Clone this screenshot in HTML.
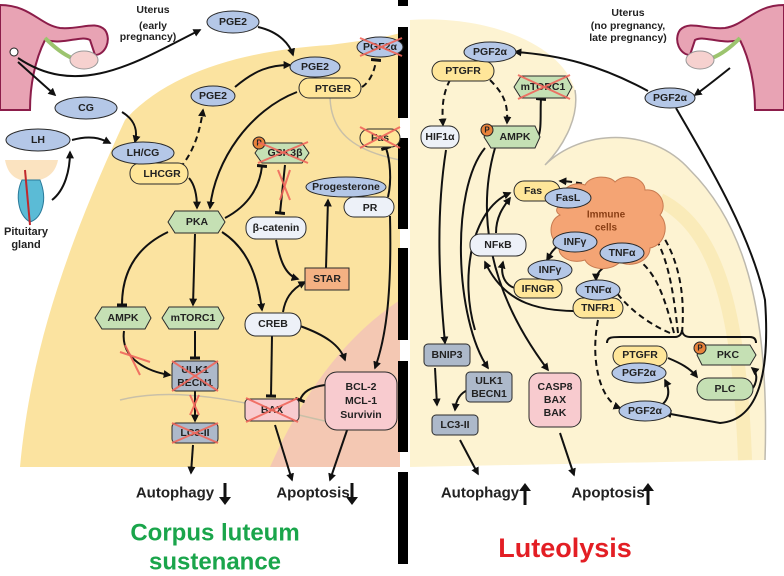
<!DOCTYPE html>
<html><head><meta charset="utf-8"><style>
html,body{margin:0;padding:0;background:#fff}
svg{display:block}
text{font-family:"Liberation Sans",sans-serif;font-weight:bold;text-anchor:middle;dominant-baseline:central;fill:#222}
.s{font-size:10.5px}
.b{fill:#b4c7e7;stroke:#2a2a2a;stroke-width:1}
.y{fill:#ffe699;stroke:#2a2a2a;stroke-width:1}
.g{fill:#c5e0b4;stroke:#2a2a2a;stroke-width:1}
.l{fill:#edf1f8;stroke:#2a2a2a;stroke-width:1}
.p{fill:#f8cbcf;stroke:#2a2a2a;stroke-width:1}
.o{fill:#f4b183;stroke:#2a2a2a;stroke-width:1}
.bg{fill:#adb9ca;stroke:#2a2a2a;stroke-width:1}
.a{fill:none;stroke:#111;stroke-width:2;marker-end:url(#ar)}
.d{fill:none;stroke:#111;stroke-width:2;stroke-dasharray:6,4;marker-end:url(#ar)}
.t{fill:none;stroke:#111;stroke-width:2;marker-end:url(#tb)}
.td{fill:none;stroke:#111;stroke-width:2;stroke-dasharray:6,4;marker-end:url(#tb)}
.x{stroke:#f0675c;stroke-width:2;opacity:.9}
.pc{fill:#e8823a;stroke:#222;stroke-width:1}
</style></head><body>
<svg width="784" height="576" viewBox="0 0 784 576" xmlns="http://www.w3.org/2000/svg">
<defs>
<marker id="ar" viewBox="0 0 10 10" refX="8" refY="5" markerWidth="4" markerHeight="4" orient="auto"><path d="M0,0L10,5L0,10z" fill="#111"/></marker>
<marker id="tb" viewBox="0 0 10 10" refX="5" refY="5" markerWidth="5" markerHeight="5" orient="auto"><path d="M5,0L5,10" stroke="#111" stroke-width="3"/></marker>
</defs>
<path d="M20,467 C30,360 60,260 125,120 C170,70 250,50 330,45 C370,40 395,35 400,33 L400,467 Z" fill="#fbe3a0"/>
<path d="M55,250 C75,180 110,120 145,95" stroke="#fff" stroke-width="8" fill="none"/>
<path d="M270,467 C300,400 340,340 400,300 L400,467 Z" fill="#f3c0b8" opacity=".8"/>
<path d="M120,400 C200,380 300,420 370,430" stroke="#c9c0a8" stroke-width="1.5" fill="none"/>
<path d="M330,95 C330,130 350,150 400,160" stroke="#c9c0a8" stroke-width="1.5" fill="none"/>
<path d="M410,20 C480,15 560,40 575,90 C580,120 560,150 545,165 C580,130 650,125 690,170 C740,220 770,300 765,460 L410,467 Z" fill="#fdf3d2"/>
<path d="M575,90 C580,120 560,150 545,165 C580,130 650,125 690,170 C740,220 770,300 765,460" stroke="#bdb9ae" stroke-width="1.5" fill="none"/>
<path d="M660,200 C720,230 740,320 745,460" stroke="#f8e6a8" stroke-width="14" fill="none" opacity=".6"/>
<g fill="#000"><rect x="398" y="0" width="10" height="6"/><rect x="398" y="27" width="10" height="91"/><rect x="398" y="138" width="10" height="91"/><rect x="398" y="248" width="10" height="92"/><rect x="398" y="361" width="10" height="91"/><rect x="398" y="472" width="10" height="92"/></g>
<path d="M0,5 C30,5 40,25 60,28 C80,30 95,20 105,30 C112,40 105,55 95,55 L90,40 C80,35 65,45 45,40 C35,60 30,85 30,110 L0,110 Z" fill="#e8a3b4" stroke="#8c1d4a" stroke-width="2"/>
<path d="M45,38 C55,48 65,55 72,58" stroke="#9cc46e" stroke-width="4" fill="none"/>
<ellipse cx="84" cy="60" rx="14" ry="9" fill="#f6d1cf" stroke="#999"/>
<circle cx="14" cy="52" r="4" fill="#fff" stroke="#222"/>
<path d="M784,5 C755,5 745,25 725,28 C705,30 690,20 680,30 C673,40 680,55 690,55 L695,40 C705,35 720,45 740,40 C750,60 755,85 755,110 L784,110 Z" fill="#e8a3b4" stroke="#8c1d4a" stroke-width="2"/>
<path d="M740,38 C730,48 720,55 712,58" stroke="#9cc46e" stroke-width="4" fill="none"/>
<ellipse cx="700" cy="60" rx="14" ry="9" fill="#f6d1cf" stroke="#999"/>
<path d="M5,160 L58,160 C55,175 45,180 30,182 C15,180 8,175 5,160Z" fill="#fbe3c0"/>
<path d="M22,180 C15,195 18,215 30,222 C42,218 48,200 40,180Z" fill="#5bbbd6" stroke="#2a7a9a"/>
<path d="M25,170 L30,225" stroke="#c0282c" stroke-width="2"/>
<text x="26" y="232" style="font-size:11px">Pituitary</text><text x="26" y="245" style="font-size:11px">gland</text>
<text x="153" y="10" style="font-size:10.5px">Uterus</text><text x="153" y="26" style="font-size:10.5px">(early</text><text x="148" y="37" style="font-size:10.5px">pregnancy)</text>
<text x="628" y="13" style="font-size:10.5px">Uterus</text><text x="628" y="26" style="font-size:10.5px">(no pregnancy,</text><text x="628" y="38" style="font-size:10.5px">late pregnancy)</text>

<path class="a" d="M18,58 C80,100 140,60 200,30"/>
<path class="a" d="M18,62 L55,95"/>
<path class="a" d="M258,27 C280,32 290,45 293,55"/>
<path class="a" d="M122,112 C135,120 138,130 135,142"/>
<path class="a" d="M72,140 C90,135 100,138 110,143"/>
<path class="a" d="M52,200 C65,190 70,170 70,152"/>
<path class="d" d="M180,168 C195,150 200,130 203,110"/>
<path class="a" d="M235,87 C255,70 270,65 290,65"/>
<path class="td" d="M362,87 C370,82 375,70 376,60"/>
<path class="a" d="M189,178 C195,185 197,195 197,208"/>
<path class="a" d="M297,92 C250,110 215,160 210,208"/>
<path class="t" d="M225,218 C250,205 260,185 262,166"/>
<path class="t" d="M285,165 L280,213"/>
<path class="a" d="M276,240 C280,260 285,275 298,279"/>
<path class="a" d="M326,268 L328,200"/>
<path class="t" d="M388,197 C392,180 390,160 386,148"/>
<path class="a" d="M390,216 C392,300 385,340 375,368"/>
<path class="t" d="M168,232 C130,250 122,280 122,305"/>
<path class="a" d="M195,234 L193,305"/>
<path class="a" d="M222,232 C250,250 258,280 262,310"/>
<path class="a" d="M283,312 C285,300 290,290 305,282"/>
<path class="a" d="M300,326 C325,335 340,345 345,360"/>
<path class="t" d="M272,336 L271,396"/>
<path class="t" d="M325,385 C310,387 303,392 300,400"/>
<path class="a" d="M124,331 C120,360 150,372 170,375"/>
<path class="t" d="M195,331 L195,358"/>
<path class="a" d="M195,391 L195,421"/>
<path class="a" d="M193,445 L191,473"/>
<path class="a" d="M275,425 L292,480"/>
<path class="a" d="M358,398 L330,480"/>
<ellipse class="b" cx="233" cy="22" rx="26" ry="11"/><text class="s" x="233" y="22">PGE2</text>
<ellipse class="b" cx="380" cy="47" rx="23" ry="10"/><text class="s" x="380" y="47">PGF2α</text>
<line class="x" x1="360" y1="38" x2="402" y2="56"/><line class="x" x1="360" y1="56" x2="402" y2="38"/>
<rect class="y" x="299" y="78" width="62" height="20" rx="10"/><text class="s" x="333" y="89">PTGER</text>
<ellipse class="b" cx="315" cy="67" rx="25" ry="10"/><text class="s" x="315" y="67">PGE2</text>
<ellipse class="b" cx="213" cy="96" rx="22" ry="10"/><text class="s" x="213" y="96">PGE2</text>
<ellipse class="b" cx="86" cy="108" rx="31" ry="11"/><text class="s" x="86" y="108">CG</text>
<ellipse class="b" cx="38" cy="140" rx="32" ry="11"/><text class="s" x="38" y="140">LH</text>
<rect class="y" x="130" y="163" width="58" height="21" rx="10"/><text class="s" x="162" y="174">LHCGR</text>
<ellipse class="b" cx="143" cy="153" rx="31" ry="11"/><text class="s" x="143" y="153">LH/CG</text>
<path class="g" d="M255,153 L262,143 L302,143 L309,153 L302,163 L262,163Z"/><text class="s" x="285" y="153">GSK3β</text>
<circle class="pc" cx="259" cy="143" r="6"/><text x="259" y="143" style="font-size:8px">P</text>
<line class="x" x1="258" y1="142" x2="308" y2="163"/><line class="x" x1="258" y1="163" x2="308" y2="142"/>
<line class="x" x1="278" y1="170" x2="290" y2="200"/><line class="x" x1="290" y1="170" x2="280" y2="200"/>
<rect class="y" x="360" y="129" width="40" height="18" rx="9"/><text class="s" x="380" y="138">Fas</text>
<line class="x" x1="360" y1="127" x2="400" y2="148"/><line class="x" x1="360" y1="148" x2="400" y2="127"/>
<rect class="l" x="344" y="197" width="50" height="20" rx="10"/><text class="s" x="370" y="208">PR</text>
<ellipse class="b" cx="346" cy="187" rx="40" ry="10"/><text class="s" x="346" y="187">Progesterone</text>
<path class="g" d="M168,222 L175,211 L218,211 L225,222 L218,233 L175,233Z"/><text class="s" x="197" y="222">PKA</text>
<rect class="l" x="246" y="217" width="60" height="22" rx="10"/><text class="s" x="276" y="228">β-catenin</text>
<rect class="o" x="305" y="268" width="44" height="22"/><text class="s" x="327" y="279">STAR</text>
<path class="g" d="M95,318 L102,307 L145,307 L151,318 L145,329 L102,329Z"/><text class="s" x="123" y="318">AMPK</text>
<path class="g" d="M162,318 L169,307 L218,307 L224,318 L218,329 L169,329Z"/><text class="s" x="193" y="318">mTORC1</text>
<line class="x" x1="120" y1="352" x2="150" y2="362"/><line class="x" x1="125" y1="345" x2="140" y2="375"/>
<rect class="l" x="245" y="313" width="56" height="23" rx="11"/><text class="s" x="273" y="324">CREB</text>
<rect class="bg" x="172" y="361" width="46" height="30" rx="4"/><text class="s" x="195" y="370">ULK1</text><text class="s" x="195" y="383">BECN1</text>
<line class="x" x1="172" y1="361" x2="218" y2="391"/><line class="x" x1="172" y1="391" x2="218" y2="361"/>
<line class="x" x1="190" y1="395" x2="199" y2="415"/><line class="x" x1="199" y1="395" x2="190" y2="415"/>
<rect class="bg" x="172" y="423" width="46" height="20" rx="4"/><text class="s" x="195" y="433">LC3-II</text>
<line class="x" x1="172" y1="423" x2="218" y2="443"/><line class="x" x1="172" y1="443" x2="218" y2="423"/>
<rect class="p" x="245" y="399" width="54" height="22" rx="4"/><text class="s" x="272" y="410">BAX</text>
<line class="x" x1="246" y1="422" x2="298" y2="398"/><line class="x" x1="246" y1="398" x2="298" y2="422"/>
<rect class="p" x="325" y="372" width="72" height="58" rx="12"/><text class="s" x="361" y="387">BCL-2</text><text class="s" x="361" y="401">MCL-1</text><text class="s" x="361" y="415">Survivin</text>
<text x="175" y="493" style="font-size:15px">Autophagy</text>
<path d="M225,483 L225,500" stroke="#111" stroke-width="3"/><path d="M219,497 L225,505 L231,497Z" fill="#111"/>
<text x="313" y="493" style="font-size:15px">Apoptosis</text>
<path d="M352,483 L352,500" stroke="#111" stroke-width="3"/><path d="M346,497 L352,505 L358,497Z" fill="#111"/>
<text x="215" y="533" style="font-size:24px;fill:#1aa54b">Corpus luteum</text>
<text x="215" y="562" style="font-size:24px;fill:#1aa54b">sustenance</text>

<path class="a" d="M648,91 C600,65 560,55 515,52"/>
<path class="a" d="M730,68 C715,80 705,88 695,95"/>
<path class="a" d="M676,108 C700,150 750,230 765,300 C770,370 760,420 720,423 L665,413"/>
<path class="d" d="M450,80 C442,95 442,110 443,125"/>
<path class="d" d="M490,80 C505,95 508,105 507,123"/>
<path class="t" d="M538,137 C542,130 540,110 541,99"/>
<path class="a" d="M446,150 C435,220 440,290 445,343"/>
<path class="a" d="M485,148 C450,190 455,320 488,368"/>
<path class="a" d="M495,148 C480,200 480,280 548,370"/>
<path class="a" d="M475,330 C460,280 470,210 510,193"/>
<path class="a" d="M496,233 C496,215 505,205 510,198"/>
<path class="a" d="M515,288 C505,285 500,275 503,262"/>
<path class="a" d="M588,311 C540,312 505,305 485,262"/>
<path class="a" d="M558,246 C552,250 550,255 547,260"/>
<path class="a" d="M603,268 C598,272 596,276 596,280"/>
<path class="d" d="M670,333 C640,320 620,300 610,283"/>
<path class="d" d="M674,333 C660,280 650,260 615,248"/>
<path class="d" d="M678,333 C670,260 660,210 595,196"/>
<path class="d" d="M682,333 C690,240 640,185 560,181"/>
<path class="d" d="M598,320 C590,360 600,400 620,408"/>
<path class="a" d="M659,407 C670,400 670,390 665,380"/>
<path class="a" d="M668,358 C680,363 690,368 697,377"/>
<path class="a" d="M753,388 C758,380 757,372 752,368"/>
<path class="a" d="M435,368 L437,405"/>
<path class="a" d="M468,390 C460,393 456,400 455,410"/>
<path class="a" d="M460,440 L478,474"/>
<path class="a" d="M560,433 L574,475"/>
<path d="M607,343 C607,337 612,337 620,337 L675,337 C680,337 682,333 682,330 C682,333 684,337 690,337 L750,337 C755,337 756,340 756,343" stroke="#111" stroke-width="2" fill="none"/>
<path d="M560,205 C555,190 575,180 585,185 C590,175 610,175 615,182 C625,172 645,178 645,190 C660,188 668,205 660,215 C670,225 665,245 650,248 C650,262 630,268 620,262 C610,272 590,270 585,260 C570,265 555,255 560,245 C548,240 548,220 560,215 C555,212 556,208 560,205Z" fill="#f4a474" stroke="#c77a50"/>
<text x="606" y="215" style="font-size:10px;fill:#8a3e14">Immune</text><text x="606" y="228" style="font-size:10px;fill:#8a3e14">cells</text>
<rect class="y" x="432" y="61" width="62" height="20" rx="10"/><text class="s" x="463" y="71">PTGFR</text>
<ellipse class="b" cx="490" cy="52" rx="26" ry="10"/><text class="s" x="490" y="52">PGF2α</text>
<path class="g" d="M514,87 L521,76 L566,76 L572,87 L566,98 L521,98Z"/><text class="s" x="543" y="87">mTORC1</text>
<line class="x" x1="518" y1="75" x2="570" y2="99"/><line class="x" x1="518" y1="99" x2="570" y2="75"/>
<rect class="l" x="421" y="126" width="38" height="22" rx="10"/><text class="s" x="440" y="137">HIF1α</text>
<path class="g" d="M484,137 L491,126 L535,126 L540,137 L535,148 L491,148Z"/><text class="s" x="515" y="137">AMPK</text>
<circle class="pc" cx="487" cy="130" r="6"/><text x="487" y="130" style="font-size:8px">P</text>
<ellipse class="b" cx="670" cy="98" rx="25" ry="10"/><text class="s" x="670" y="98">PGF2α</text>
<rect class="y" x="514" y="181" width="46" height="20" rx="10"/><text class="s" x="533" y="191">Fas</text>
<ellipse class="b" cx="568" cy="198" rx="23" ry="10"/><text class="s" x="568" y="198">FasL</text>
<ellipse class="b" cx="575" cy="242" rx="22" ry="10"/><text class="s" x="575" y="242">INFγ</text>
<ellipse class="b" cx="622" cy="253" rx="22" ry="10"/><text class="s" x="622" y="253">TNFα</text>
<rect class="l" x="470" y="234" width="56" height="22" rx="10"/><text class="s" x="498" y="245">NFκB</text>
<rect class="y" x="514" y="279" width="48" height="19" rx="9"/><text class="s" x="538" y="289">IFNGR</text>
<ellipse class="b" cx="550" cy="270" rx="22" ry="10"/><text class="s" x="550" y="270">INFγ</text>
<rect class="y" x="573" y="298" width="50" height="20" rx="10"/><text class="s" x="598" y="308">TNFR1</text>
<ellipse class="b" cx="598" cy="290" rx="22" ry="10"/><text class="s" x="598" y="290">TNFα</text>
<rect class="y" x="613" y="346" width="54" height="20" rx="10"/><text class="s" x="640" y="355">PTGFR</text>
<ellipse class="b" cx="639" cy="373" rx="27" ry="10"/><text class="s" x="639" y="373">PGF2α</text>
<path class="g" d="M697,355 L702,345 L750,345 L756,355 L750,365 L702,365Z"/><text class="s" x="728" y="355">PKC</text>
<circle class="pc" cx="700" cy="348" r="6"/><text x="700" y="348" style="font-size:8px">P</text>
<rect class="g" x="697" y="378" width="56" height="22" rx="11"/><text class="s" x="725" y="389">PLC</text>
<ellipse class="b" cx="645" cy="411" rx="26" ry="10"/><text class="s" x="645" y="411">PGF2α</text>
<rect class="bg" x="424" y="344" width="46" height="22" rx="4"/><text class="s" x="447" y="355">BNIP3</text>
<rect class="bg" x="466" y="372" width="46" height="30" rx="4"/><text class="s" x="489" y="381">ULK1</text><text class="s" x="489" y="394">BECN1</text>
<rect class="bg" x="432" y="415" width="46" height="20" rx="4"/><text class="s" x="455" y="425">LC3-II</text>
<rect class="p" x="529" y="373" width="52" height="54" rx="10"/><text class="s" x="555" y="387">CASP8</text><text class="s" x="555" y="400">BAX</text><text class="s" x="555" y="413">BAK</text>
<text x="480" y="493" style="font-size:15px">Autophagy</text>
<path d="M525,505 L525,488" stroke="#111" stroke-width="3"/><path d="M519,491 L525,483 L531,491Z" fill="#111"/>
<text x="608" y="493" style="font-size:15px">Apoptosis</text>
<path d="M648,505 L648,488" stroke="#111" stroke-width="3"/><path d="M642,491 L648,483 L654,491Z" fill="#111"/>
<text x="565" y="548" style="font-size:27px;fill:#e31e24">Luteolysis</text>
</svg>
</body></html>
